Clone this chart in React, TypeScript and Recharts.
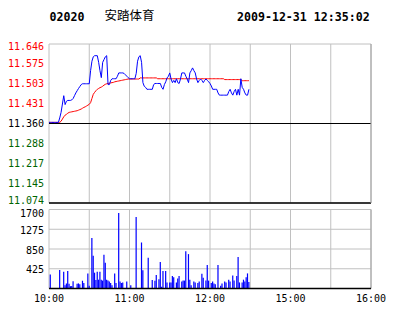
import React from 'react';
import { ComposedChart, Line, Bar, XAxis, YAxis, CartesianGrid, ReferenceLine } from 'recharts';

const stockCode = '02020';
const stockName = '安踏体育';
const timestamp = '2009-12-31 12:35:02';

const prevClose = 11.36;
const priceTicks = [11.074, 11.145, 11.217, 11.288, 11.36, 11.431, 11.503, 11.575, 11.646];
const priceTickLabels = ['11.074', '11.145', '11.217', '11.288', '11.360', '11.431', '11.503', '11.575', '11.646'];
const pctTicks = [-2.52, -1.89, -1.26, -0.63, 0, 0.63, 1.26, 1.89, 2.52];
const pctTickLabels = ['-2.52 %', '-1.89 %', '-1.26 %', '-0.63 %', ' 0.00 %', '+0.63 %', '+1.26 %', '+1.89 %', '+2.52 %'];
const timeTicks = [0, 30, 60, 90, 120, 150, 180, 210, 240];
const timeTickLabels = ['10:00', '', '11:00', '', '12:00', '', '15:00', '', '16:00'];
const volumeTicks = [0, 425, 850, 1275, 1700];
const volumeTickLabels = ['', '425', '850', '1275', '1700'];

// one value per trading minute from 10:00
const prices = [
  11.364, 11.364, 11.364, 11.364, 11.364, 11.364, 11.364, 11.364, 11.38, 11.40,
  11.43, 11.46, 11.428, 11.44, 11.443, 11.443, 11.443, 11.445, 11.45, 11.46,
  11.47, 11.478, 11.486, 11.493, 11.50, 11.503, 11.503, 11.503, 11.503, 11.503,
  11.503, 11.55, 11.584, 11.60, 11.604, 11.604, 11.604, 11.58, 11.55, 11.525,
  11.58, 11.59, 11.60, 11.604, 11.50, 11.50, 11.515, 11.521, 11.521, 11.521,
  11.521, 11.53, 11.542, 11.542, 11.542, 11.542, 11.54, 11.535, 11.53, 11.525,
  11.521, 11.521, 11.521, 11.521, 11.521, 11.54, 11.584, 11.60, 11.604, 11.58,
  11.507, 11.494, 11.49, 11.483, 11.483, 11.483, 11.483, 11.483, 11.50, 11.504,
  11.504, 11.504, 11.504, 11.504, 11.49, 11.483, 11.50, 11.51, 11.524, 11.53,
  11.542, 11.52, 11.507, 11.515, 11.507, 11.521, 11.507, 11.504, 11.52, 11.542,
  11.542, 11.542, 11.53, 11.52, 11.507, 11.542, 11.55, 11.56, 11.55, 11.542,
  11.52, 11.507, 11.515, 11.52, 11.515, 11.507, 11.515, 11.52, 11.515, 11.51,
  11.504, 11.495, 11.483, 11.483, 11.483, 11.483, 11.47, 11.462, 11.462, 11.462,
  11.462, 11.462, 11.462, 11.462, 11.475, 11.483, 11.47, 11.462, 11.475, 11.483,
  11.462, 11.483, 11.462, 11.521, 11.49, 11.483, 11.47, 11.462, 11.462, 11.483,
];

const averages = [
  11.364, 11.364, 11.364, 11.364, 11.364, 11.364, 11.364, 11.364, 11.364, 11.368,
  11.376, 11.384, 11.39, 11.393, 11.397, 11.40, 11.401, 11.402, 11.403, 11.404,
  11.405, 11.406, 11.408, 11.41, 11.412, 11.415, 11.418, 11.42, 11.423, 11.426,
  11.429, 11.435, 11.45, 11.465, 11.472, 11.478, 11.483, 11.486, 11.489, 11.491,
  11.494, 11.498, 11.501, 11.503, 11.504, 11.505, 11.506, 11.507, 11.508, 11.51,
  11.511, 11.512, 11.513, 11.514, 11.515, 11.516, 11.517, 11.518, 11.519, 11.52,
  11.52, 11.52, 11.52, 11.52, 11.52, 11.52, 11.52, 11.52, 11.524, 11.524,
  11.524, 11.524, 11.524, 11.524, 11.524, 11.524, 11.524, 11.524, 11.524, 11.524,
  11.524, 11.521, 11.521, 11.521, 11.521, 11.521, 11.521, 11.521, 11.521, 11.521,
  11.521, 11.521, 11.521, 11.521, 11.521, 11.521, 11.521, 11.521, 11.521, 11.521,
  11.521, 11.521, 11.521, 11.521, 11.521, 11.521, 11.521, 11.521, 11.521, 11.521,
  11.521, 11.521, 11.521, 11.521, 11.521, 11.521, 11.521, 11.521, 11.521, 11.521,
  11.521, 11.521, 11.521, 11.521, 11.521, 11.521, 11.521, 11.521, 11.521, 11.521,
  11.521, 11.518, 11.518, 11.518, 11.518, 11.518, 11.518, 11.518, 11.518, 11.518,
  11.518, 11.518, 11.518, 11.518, 11.514, 11.514, 11.514, 11.514, 11.514, 11.514,
];

const volumes = [
  0, 300, 0, 0, 0, 0, 0, 0, 400, 0,
  0, 360, 70, 110, 375, 100, 50, 55, 155, 0,
  0, 100, 110, 90, 0, 167, 120, 0, 0, 325,
  60, 0, 1085, 705, 340, 185, 360, 190, 360, 190,
  170, 725, 555, 190, 170, 150, 120, 70, 0, 325,
  120, 0, 1625, 150, 120, 130, 0, 0, 150, 0,
  0, 70, 0, 0, 0, 1540, 0, 0, 0, 990,
  395, 0, 0, 0, 660, 0, 0, 185, 0, 165,
  290, 0, 200, 570, 40, 375, 0, 375, 130, 0,
  130, 130, 270, 240, 0, 130, 215, 270, 0, 150,
  170, 170, 800, 0, 740, 190, 70, 0, 150, 130,
  0, 120, 150, 0, 320, 230, 0, 170, 505, 170,
  0, 120, 150, 110, 90, 0, 505, 0, 60, 110,
  0, 150, 130, 0, 190, 150, 0, 280, 170, 0,
  270, 680, 130, 0, 130, 190, 150, 240, 325, 140,
];

const data = prices.map((p, i) => ({ t: i, price: p, avg: averages[i], vol: volumes[i] }));

const MONO = "'DejaVu Sans Mono', monospace";
const RED = '#ff0000';
const GREEN = '#006400';
const GRID = '#c0c0c0';

const LeftPriceTick = (props: any) => {
  const { x, y, payload } = props;
  const v = payload.value;
  const i = priceTicks.indexOf(v);
  const color = v > prevClose ? RED : v < prevClose ? GREEN : '#000000';
  const adj = i === priceTicks.length - 1 ? 2.4 : i === 0 ? -2.4 : 0;
  return (
    <text x={x} y={y + adj + 3.6} textAnchor="end" fill={color} fontFamily={MONO} fontSize={10}>
      {priceTickLabels[i]}
    </text>
  );
};

const RightPctTick = (props: any) => {
  const { x, y, payload } = props;
  const v = payload.value;
  const i = pctTicks.indexOf(v);
  const color = v > 0 ? RED : v < 0 ? GREEN : '#000000';
  const adj = i === pctTicks.length - 1 ? 2.6 : i === 0 ? -2.4 : 0;
  return (
    <text x={x} y={y + adj + 3.6} textAnchor="start" fill={color} fontFamily={MONO} fontSize={10} style={{ whiteSpace: 'pre' }}>
      {pctTickLabels[i]}
    </text>
  );
};

const VolumeTick = (props: any) => {
  const { x, y, payload } = props;
  const i = volumeTicks.indexOf(payload.value);
  const adj = i === volumeTicks.length - 1 ? 3.5 : 1;
  return (
    <text x={x} y={y + adj + 3.6} textAnchor="end" fill="#000000" fontFamily={MONO} fontSize={10}>
      {volumeTickLabels[i]}
    </text>
  );
};

const TimeTick = (props: any) => {
  const { x, y, payload } = props;
  const i = timeTicks.indexOf(payload.value);
  return (
    <text x={x} y={y + 13.5} textAnchor="middle" fill="#000000" fontFamily={MONO} fontSize={10}>
      {timeTickLabels[i]}
    </text>
  );
};

export default function App() {
  return (
    <div style={{ position: 'absolute', left: 0, top: 0, width: 414, height: 314, background: '#ffffff' }}>
      <svg width={414} height={40} style={{ position: 'absolute', left: 0, top: 0 }}>
        <text x={49.5} y={20.7} fontFamily={MONO} fontWeight="bold" fontSize={11.6} fill="#000">{stockCode}</text>
        <text x={104.5} y={19.7} fontFamily="'Noto Sans CJK SC', sans-serif" fontSize={12.5} fill="#000">{stockName}</text>
        <text x={237} y={20.7} fontFamily={MONO} fontWeight="bold" fontSize={11.6} fill="#000">{timestamp}</text>
      </svg>
      <div style={{ position: 'absolute', left: 0, top: 0 }}>
        <ComposedChart width={414} height={210} data={data} margin={{ top: 44, right: 0, bottom: 7, left: 0 }}>
          <CartesianGrid stroke={GRID} strokeWidth={1} />
          <XAxis dataKey="t" type="number" domain={[0, 240]} ticks={timeTicks} hide />
          <YAxis yAxisId="p" orientation="left" width={49} type="number" domain={[11.074, 11.646]} ticks={priceTicks}
            axisLine={false} tickLine={false} tickSize={0} tickMargin={5} tick={<LeftPriceTick />} interval={0} />
          <YAxis yAxisId="pct" orientation="right" width={43} type="number" domain={[-2.52, 2.52]} ticks={pctTicks}
            axisLine={{ stroke: '#a0a0a0' }} tickLine={false} tickSize={0} tickMargin={0.5} tick={<RightPctTick />} interval={0} />
          <ReferenceLine yAxisId="p" y={prevClose} stroke="#000000" strokeWidth={1} />
          <ReferenceLine yAxisId="p" y={11.074} stroke="#000000" strokeWidth={1.5} />
          <Line yAxisId="p" dataKey="avg" type="linear" stroke={RED} strokeWidth={1} dot={false} isAnimationActive={false} />
          <Line yAxisId="p" dataKey="price" type="linear" stroke="#0000ff" strokeWidth={1} dot={false} isAnimationActive={false} />
        </ComposedChart>
      </div>
      <div style={{ position: 'absolute', left: 0, top: 200 }}>
        <ComposedChart width={414} height={114} data={data} margin={{ top: 9.5, right: 43, bottom: 5.5, left: 0 }}>
          <CartesianGrid stroke={GRID} strokeWidth={1} />
          <XAxis dataKey="t" type="number" domain={[0, 240]} ticks={timeTicks} height={20} interval={0}
            axisLine={{ stroke: '#000000', strokeWidth: 1.5 }} tickLine={false} tickSize={0} tickMargin={0} tick={<TimeTick />} />
          <YAxis orientation="left" width={49} type="number" domain={[0, 1700]} ticks={volumeTicks} interval={0}
            axisLine={false} tickLine={false} tickSize={0} tickMargin={5} tick={<VolumeTick />} />
          <ReferenceLine x={240} stroke="#a0a0a0" />
          <Bar dataKey="vol" fill="#0000ff" barSize={1.6} isAnimationActive={false} />
        </ComposedChart>
      </div>
    </div>
  );
}
